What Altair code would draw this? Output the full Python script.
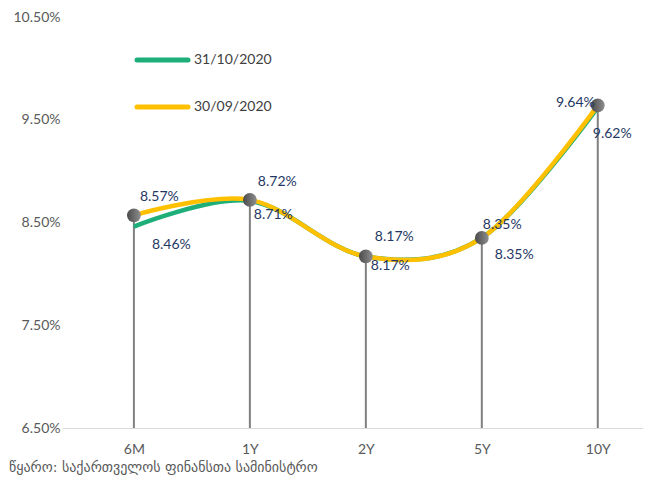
import json
import altair as alt
import pandas as pd

tenors = ["6M", "1Y", "2Y", "5Y", "10Y"]
oct_values = [8.46, 8.71, 8.17, 8.35, 9.62]   # 31/10/2020
sep_values = [8.57, 8.72, 8.17, 8.35, 9.64]   # 30/09/2020
series_names = ["31/10/2020", "30/09/2020"]
y_ticks = [6.5, 7.5, 8.5, 9.5, 10.5]
source_text = "წყარო: საქართველოს ფინანსთა სამინისტრო"

df = pd.DataFrame({
    "idx": list(range(len(tenors))),
    "tenor": tenors,
    "oct": oct_values,
    "sep": sep_values,
})

GREEN = "#1DAE79"
YELLOW = "#FFC000"
LABEL_BLUE = "#1F3864"
AXIS_GRAY = "#595959"
FONT = "Lato"

W, H = 581, 411

x_enc = alt.X(
    "idx:Q",
    scale=alt.Scale(domain=[-0.62, 4.39], nice=False, zero=False),
    axis=alt.Axis(
        values=list(range(len(tenors))),
        labelExpr=json.dumps(tenors) + "[datum.value]",
        grid=False, ticks=False, domainColor="#D9D9D9", domainWidth=1,
        labelPadding=14, labelFontSize=14, labelColor=AXIS_GRAY, labelFont=FONT,
        title=None,
    ),
)
y_scale = alt.Scale(domain=[6.5, 10.5], nice=False, zero=False)
y_axis = alt.Axis(
    values=y_ticks, labelExpr="format(datum.value, '.2f') + '%'",
    grid=False, ticks=False, domain=False, labelPadding=2,
    labelFontSize=14, labelColor=AXIS_GRAY, labelFont=FONT, title=None,
)

base = alt.Chart(df).transform_calculate(
    sep_label="format(datum.sep, '.2f') + '%'",
    oct_label="format(datum.oct, '.2f') + '%'",
    floor="6.5",
)

drops = base.mark_rule(color="#808080", strokeWidth=2).encode(
    x=x_enc, y=alt.Y("sep:Q", scale=y_scale, axis=y_axis), y2="floor:Q"
)
line_oct = base.mark_line(color=GREEN, strokeWidth=4.5, interpolate="cardinal").encode(
    x=x_enc, y=alt.Y("oct:Q", scale=y_scale, axis=y_axis)
)
line_sep = base.mark_line(color=YELLOW, strokeWidth=4.5, interpolate="cardinal").encode(
    x=x_enc, y=alt.Y("sep:Q", scale=y_scale, axis=y_axis)
)
grad = alt.LinearGradient(
    gradient="linear",
    stops=[alt.GradientStop(offset=0, color="#4A4A4A"),
           alt.GradientStop(offset=1, color="#8E8E8E")],
    x1=0, x2=1, y1=0, y2=0,
)
markers = base.mark_circle(size=190, opacity=1, color=grad).encode(
    x=x_enc, y=alt.Y("sep:Q", scale=y_scale, axis=y_axis)
)

# label placement (pixel offsets) per tenor
sep_offsets = [(6, -18, "left"), (8, -18, "left"), (9, -19, "left"), (1, -13, "left"), (-3, -2, "right")]
oct_offsets = [(18, 18, "left"), (4, 14, "left"), (5, 10, "left"), (13, 17, "left"), (-5, 27, "left")]

label_layers = []
for i in range(len(tenors)):
    dx, dy, al = sep_offsets[i]
    label_layers.append(
        base.transform_filter(alt.datum.idx == i).mark_text(
            dx=dx, dy=dy, align=al, baseline="middle", fontSize=14,
            color=LABEL_BLUE, font=FONT,
        ).encode(x=x_enc, y=alt.Y("sep:Q", scale=y_scale, axis=y_axis), text="sep_label:N")
    )
    dx, dy, al = oct_offsets[i]
    label_layers.append(
        base.transform_filter(alt.datum.idx == i).mark_text(
            dx=dx, dy=dy, align=al, baseline="middle", fontSize=14,
            color=LABEL_BLUE, font=FONT,
        ).encode(x=x_enc, y=alt.Y("oct:Q", scale=y_scale, axis=y_axis), text="oct_label:N")
    )

one = pd.DataFrame({"a": [0]})
leg_green = alt.Chart(one).mark_rule(color=GREEN, strokeWidth=5, strokeCap="round").encode(
    x=alt.value(75), x2=alt.value(126), y=alt.value(43))
leg_yellow = alt.Chart(one).mark_rule(color=YELLOW, strokeWidth=5, strokeCap="round").encode(
    x=alt.value(75), x2=alt.value(126), y=alt.value(90))
leg_text1 = alt.Chart(pd.DataFrame({"name": [series_names[0]]})).mark_text(
    align="left", baseline="middle", fontSize=14, color="#404040", font=FONT
).encode(x=alt.value(132), y=alt.value(43), text="name:N")
leg_text2 = alt.Chart(pd.DataFrame({"name": [series_names[1]]})).mark_text(
    align="left", baseline="middle", fontSize=14, color="#404040", font=FONT
).encode(x=alt.value(132), y=alt.value(90), text="name:N")

src = alt.Chart(pd.DataFrame({"s": [source_text]})).mark_text(
    align="left", baseline="middle", fontSize=14, color=AXIS_GRAY, font="DejaVu Sans"
).encode(x=alt.value(-53), y=alt.value(451), text="s:N")

chart = alt.layer(
    drops, line_oct, line_sep, markers, *label_layers,
    leg_green, leg_yellow, leg_text1, leg_text2, src,
).properties(
    width=W, height=H,
    autosize=alt.AutoSizeParams(type="none"),
    padding={"left": 54, "top": 9, "right": 0, "bottom": 49},
).configure_view(stroke=None)

chart.save("out.html", embed_options={"renderer": "svg", "actions": False})
